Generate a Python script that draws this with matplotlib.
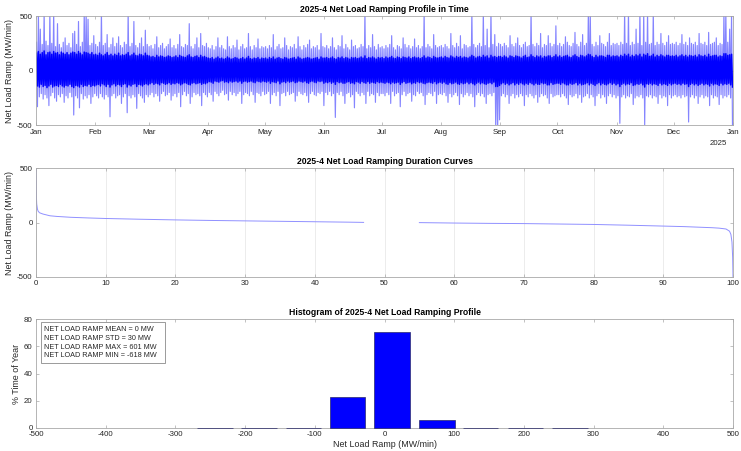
import numpy as np
import matplotlib
matplotlib.use("Agg")
import matplotlib.pyplot as plt
from matplotlib.patches import Rectangle

plt.rcParams['font.family'] = ['Liberation Sans', 'DejaVu Sans']
plt.rcParams['axes.unicode_minus'] = False

# ---------------- data ----------------
month_labels = ['Jan', 'Feb', 'Mar', 'Apr', 'May', 'Jun', 'Jul', 'Aug',
                'Sep', 'Oct', 'Nov', 'Dec', 'Jan']
month_start_day = [0, 31, 59, 90, 120, 151, 181, 212, 243, 273, 304, 334, 365]
year_label = '2025'

# daily maximum ramp (MW/min)
up_jan = [260, 540, 380, 240, 540, 270, 230, 540, 250, 540, 220, 430, 240, 210, 260, 300,
          230, 250, 210, 340, 360, 240, 450, 220, 260, 540, 540, 470, 230, 250, 320]
up_feb = [240, 220, 260, 540, 230, 250, 330, 210, 240, 300, 220, 250, 310, 230, 210, 260,
          240, 540, 220, 250, 450, 230, 210, 250, 300, 220, 370, 240]
up_mar = [220, 230, 200, 240, 310, 210, 230, 250, 200, 220, 240, 290, 210, 230, 200, 240,
          330, 220, 210, 240, 230, 430, 220, 200, 240, 300, 210, 340, 230, 220, 250]
up_apr = [210, 200, 230, 190, 220, 300, 210, 230, 200, 190, 310, 220, 200, 230, 210, 280,
          190, 220, 240, 200, 210, 340, 220, 190, 230, 210, 290, 200, 220, 210]
up_may = [220, 200, 230, 210, 330, 190, 220, 240, 200, 210, 300, 230, 190, 220, 210, 240,
          200, 310, 220, 190, 230, 210, 240, 280, 200, 220, 210, 230, 190, 340, 220]
up_jun = [210, 230, 200, 220, 300, 210, 190, 230, 220, 320, 200, 240, 210, 190, 280, 220,
          230, 200, 210, 240, 220, 540, 200, 230, 210, 330, 220, 190, 240, 210]
up_jul = [220, 200, 230, 210, 240, 320, 210, 190, 230, 220, 200, 300, 240, 210, 230, 200,
          220, 290, 210, 230, 200, 220, 540, 210, 240, 220, 200, 330, 230, 210, 220]
up_aug = [230, 210, 240, 220, 200, 340, 230, 210, 250, 220, 320, 200, 240, 230, 210, 220,
          540, 240, 210, 230, 250, 220, 540, 230, 380, 210, 540, 240, 330, 220, 250]
up_sep = [240, 220, 250, 230, 210, 320, 240, 220, 250, 300, 230, 210, 240, 260, 220, 230,
          540, 240, 220, 250, 230, 340, 210, 240, 230, 320, 250, 220, 240, 410]
up_oct = [230, 250, 220, 240, 310, 260, 230, 220, 250, 350, 240, 220, 260, 330, 230, 250,
          540, 540, 240, 220, 260, 230, 320, 250, 240, 220, 260, 340, 230, 250, 240]
up_nov = [250, 230, 260, 240, 540, 250, 540, 230, 260, 240, 380, 250, 540, 230, 540, 260,
          540, 240, 250, 540, 230, 260, 240, 340, 250, 230, 260, 320, 240, 250]
up_dec = [240, 260, 230, 250, 330, 240, 260, 230, 300, 250, 240, 260, 230, 340, 250, 240,
          260, 230, 350, 240, 250, 260, 300, 230, 250, 240, 540, 540, 260, 380, 540]

# daily minimum ramp (MW/min)
dn_jan = [-330, -240, -210, -260, -220, -250, -320, -230, -200, -250, -280, -220, -240, -210,
          -290, -230, -250, -200, -240, -406, -230, -250, -340, -210, -260, -230, -250, -220,
          -300, -240, -210]
dn_feb = [-230, -250, -210, -240, -260, -220, -240, -422, -230, -210, -250, -230, -220, -300,
          -240, -210, -385, -230, -250, -220, -240, -345, -210, -230, -250, -290, -220, -240]
dn_mar = [-220, -200, -240, -210, -230, -280, -210, -190, -230, -220, -200, -270, -230, -210,
          -240, -200, -330, -220, -190, -230, -210, -300, -240, -200, -220, -210, -230, -320,
          -200, -220, -240]
dn_apr = [-200, -220, -280, -190, -210, -230, -200, -180, -220, -210, -270, -190, -220, -200,
          -230, -210, -190, -300, -220, -200, -210, -230, -190, -220, -290, -200, -210, -230,
          -190, -220]
dn_may = [-210, -190, -300, -220, -200, -230, -190, -320, -210, -200, -230, -190, -220, -210,
          -200, -280, -230, -190, -210, -220, -200, -230, -290, -210, -190, -220, -230, -200,
          -210, -190, -320]
dn_jun = [-200, -220, -190, -230, -210, -428, -200, -220, -190, -230, -300, -210, -200, -240,
          -220, -340, -190, -210, -230, -200, -220, -300, -190, -230, -210, -220, -290, -200,
          -230, -210]
dn_jul = [-210, -230, -200, -220, -300, -190, -230, -210, -200, -330, -220, -190, -230, -210,
          -200, -280, -220, -230, -190, -210, -200, -230, -310, -220, -200, -210, -230, -190,
          -300, -220, -210]
dn_aug = [-220, -200, -230, -290, -210, -240, -220, -200, -230, -310, -210, -240, -220, -200,
          -230, -210, -240, -330, -220, -200, -230, -210, -240, -300, -220, -210, -230, -200,
          -540, -540, -450]
dn_sep = [-230, -210, -240, -220, -300, -230, -210, -250, -220, -240, -210, -230, -320, -220,
          -240, -210, -230, -250, -220, -290, -240, -210, -230, -220, -250, -300, -210, -240,
          -230, -220]
dn_oct = [-220, -240, -210, -230, -250, -310, -220, -240, -230, -210, -250, -220, -290, -240,
          -230, -210, -250, -220, -240, -320, -230, -210, -250, -220, -240, -300, -230, -210,
          -240, -220, -250]
dn_nov = [-230, -482, -240, -220, -250, -230, -240, -210, -310, -250, -230, -240, -220, -250,
          -497, -230, -240, -220, -250, -230, -240, -300, -220, -250, -230, -240, -320, -220,
          -250, -230]
dn_dec = [-220, -240, -230, -250, -220, -240, -230, -470, -240, -220, -250, -230, -300, -240,
          -220, -250, -230, -240, -320, -220, -250, -230, -240, -310, -220, -250, -230, -240,
          -220, -250, -540]

# daily dense-core upper / lower ramp (MW/min)
in_up_jan = [160, 175, 150, 165, 180, 145, 165, 170, 150, 175, 160, 165, 145, 170, 160, 150,
             165, 145, 160, 170, 165, 150, 175, 160, 145, 170, 165, 160, 150, 165, 145]
in_dn_jan = [-140, -150, -125, -145, -135, -155, -140, -125, -150, -140, -135, -145, -125, -140,
             -150, -135, -140, -125, -145, -155, -135, -140, -150, -125, -145, -135, -140, -125,
             -145, -135, -140]
in_up_feb = [150, 140, 160, 145, 135, 150, 165, 140, 150, 135, 150, 140, 160, 135, 145, 140,
             150, 165, 135, 145, 160, 140, 135, 150, 145, 135, 160, 140]
in_dn_feb = [-130, -125, -140, -120, -130, -145, -125, -150, -130, -120, -140, -125, -130, -145,
             -125, -120, -150, -130, -140, -125, -120, -145, -125, -130, -140, -125, -120, -130]
in_up_mar = [135, 125, 130, 120, 140, 125, 135, 130, 120, 125, 135, 130, 120, 125, 135, 120,
             140, 130, 125, 120, 135, 145, 125, 120, 130, 135, 120, 140, 125, 130, 120]
in_dn_mar = [-120, -110, -125, -115, -120, -130, -110, -115, -125, -120, -110, -125, -115, -120,
             -110, -115, -130, -120, -110, -115, -125, -130, -115, -110, -120, -115, -110, -125,
             -115, -120, -110]
in_up_apr = [115, 110, 120, 105, 115, 125, 110, 115, 105, 110, 125, 115, 105, 110, 120, 115,
             105, 110, 120, 105, 115, 130, 110, 105, 115, 110, 120, 105, 115, 110]
in_dn_apr = [-100, -105, -115, -95, -100, -105, -95, -90, -105, -100, -110, -95, -105, -100,
             -95, -105, -95, -115, -100, -95, -105, -100, -95, -105, -110, -95, -100, -105,
             -95, -100]
in_up_may = [115, 105, 120, 110, 125, 105, 115, 120, 110, 105, 120, 115, 105, 110, 115, 120,
             105, 125, 115, 105, 110, 115, 120, 115, 105, 110, 115, 120, 105, 125, 115]
in_dn_may = [-105, -95, -115, -100, -105, -110, -95, -120, -105, -100, -110, -95, -105, -100,
             -95, -110, -105, -95, -100, -105, -95, -110, -115, -100, -95, -105, -110, -95,
             -100, -95, -115]
in_up_jun = [115, 120, 110, 115, 125, 110, 105, 120, 115, 125, 110, 120, 115, 105, 120, 115,
             120, 110, 115, 125, 115, 135, 110, 120, 115, 125, 115, 105, 120, 115]
in_dn_jun = [-105, -110, -100, -115, -105, -125, -100, -110, -105, -115, -115, -105, -100, -115,
             -110, -120, -100, -105, -115, -100, -110, -115, -100, -115, -105, -110, -115, -100,
             -110, -105]
in_up_jul = [120, 110, 125, 115, 120, 130, 115, 110, 125, 120, 110, 125, 120, 115, 125, 110,
             120, 125, 115, 120, 110, 120, 135, 115, 125, 120, 110, 130, 120, 115, 120]
in_dn_jul = [-110, -115, -105, -110, -120, -105, -115, -110, -105, -125, -110, -100, -115, -110,
             -105, -120, -110, -115, -100, -110, -105, -115, -120, -110, -105, -110, -115, -100,
             -120, -110, -105]
in_up_aug = [125, 115, 130, 120, 115, 135, 125, 115, 130, 120, 130, 115, 125, 120, 115, 125,
             140, 130, 115, 125, 130, 120, 140, 125, 135, 115, 140, 125, 130, 120, 130]
in_dn_aug = [-115, -105, -120, -125, -110, -120, -115, -105, -120, -125, -110, -120, -115, -105,
             -120, -110, -120, -130, -115, -105, -120, -110, -120, -125, -115, -110, -120, -105,
             -145, -145, -135]
in_up_sep = [130, 120, 135, 125, 115, 135, 130, 120, 135, 130, 125, 115, 130, 140, 120, 125,
             145, 130, 120, 135, 125, 135, 115, 130, 125, 135, 135, 120, 130, 145]
in_dn_sep = [-120, -110, -125, -115, -130, -120, -110, -130, -115, -125, -110, -120, -130, -115,
             -125, -110, -120, -130, -115, -125, -125, -110, -120, -115, -130, -130, -110, -125,
             -120, -115]
in_up_oct = [125, 135, 120, 130, 135, 140, 125, 120, 135, 145, 130, 120, 140, 135, 125, 135,
             150, 145, 130, 120, 140, 125, 135, 135, 130, 120, 140, 140, 125, 135, 130]
in_dn_oct = [-115, -125, -110, -120, -130, -130, -115, -125, -120, -110, -130, -115, -130, -125,
             -120, -110, -130, -115, -125, -135, -120, -110, -130, -115, -125, -130, -120, -110,
             -125, -115, -130]
in_up_nov = [135, 125, 140, 130, 150, 135, 150, 125, 140, 130, 145, 135, 150, 125, 150, 140,
             155, 130, 135, 150, 125, 140, 130, 145, 135, 125, 140, 140, 130, 135]
in_dn_nov = [-120, -145, -125, -115, -130, -120, -125, -110, -135, -130, -120, -125, -115, -130,
             -150, -120, -125, -115, -130, -120, -125, -135, -115, -130, -120, -125, -135, -115,
             -130, -120]
in_up_dec = [130, 140, 125, 135, 145, 130, 140, 125, 140, 135, 130, 140, 125, 145, 135, 130,
             140, 125, 150, 130, 135, 140, 140, 125, 135, 130, 155, 155, 140, 145, 150]
in_dn_dec = [-115, -125, -120, -130, -115, -125, -120, -145, -125, -115, -130, -120, -135, -125,
             -115, -130, -120, -125, -140, -115, -130, -120, -125, -135, -115, -130, -120, -125,
             -115, -130, -150]

# duration curve (percent of time, MW/min)
dur_pos_pct = [0, 0.02, 0.05, 0.1, 0.2, 0.3, 0.5, 1, 2, 3, 5, 7.5, 10, 15, 20, 25, 30, 35, 40, 45, 47]
dur_pos_val = [500, 400, 250, 170, 125, 105, 90, 78, 62, 56, 48, 42, 37, 30, 24, 19, 15, 11, 7, 3, 1]
dur_neg_pct = [55, 60, 65, 70, 75, 80, 85, 90, 93, 95, 97, 98, 99, 99.5, 99.7, 99.85, 99.95, 100]
dur_neg_val = [-1, -5, -8, -10, -14, -18, -25, -33, -38, -43, -48, -52, -60, -80, -110, -180, -320, -500]

# histogram (bin centre MW/min, % time of year)
hist_centers = [-243, -180, -116, -53, 11, 75, 138, 202, 266]
hist_pct = [0.03, 0.05, 0.3, 22.6, 70.9, 5.9, 0.2, 0.03, 0.02]

stats_lines = ['NET LOAD RAMP MEAN = 0 MW',
               'NET LOAD RAMP STD = 30 MW',
               'NET LOAD RAMP MAX = 601 MW',
               'NET LOAD RAMP MIN = -618 MW']

# ---------------- figure ----------------
SPINE = '#a8a8a8'
TXT = '#262626'
TICK_FS = 5.7
LAB_FS = 6.4
TIT_FS = 6.2


def style(ax):
    for s in ax.spines.values():
        s.set_color(SPINE)
        s.set_linewidth(0.6)
    ax.tick_params(direction='in', length=2.5, width=0.5, color=SPINE,
                   labelsize=TICK_FS, labelcolor=TXT, top=True, right=True, pad=2.5)


def zigzag(hi, lo):
    n = min(len(hi), len(lo))
    xs = np.empty(2 * n)
    ys = np.empty(2 * n)
    xs[0::2] = np.arange(n) + 0.25
    xs[1::2] = np.arange(n) + 0.75
    ys[0::2] = np.array(hi[:n])
    ys[1::2] = np.array(lo[:n])
    return xs, ys


fig = plt.figure(figsize=(7.41, 4.51), dpi=100)
ax1 = fig.add_axes([0.0486, 0.7222, 0.9406, 0.2423])
ax2 = fig.add_axes([0.0486, 0.3865, 0.9406, 0.2403])
ax3 = fig.add_axes([0.0486, 0.051, 0.9406, 0.241])

# --- top: time profile
up = up_jan + up_feb + up_mar + up_apr + up_may + up_jun + up_jul + up_aug + up_sep + up_oct + up_nov + up_dec
dn = dn_jan + dn_feb + dn_mar + dn_apr + dn_may + dn_jun + dn_jul + dn_aug + dn_sep + dn_oct + dn_nov + dn_dec
in_up = (in_up_jan + in_up_feb + in_up_mar + in_up_apr + in_up_may + in_up_jun + in_up_jul
         + in_up_aug + in_up_sep + in_up_oct + in_up_nov + in_up_dec)
in_dn = (in_dn_jan + in_dn_feb + in_dn_mar + in_dn_apr + in_dn_may + in_dn_jun + in_dn_jul
         + in_dn_aug + in_dn_sep + in_dn_oct + in_dn_nov + in_dn_dec)
fx, fy = zigzag(up, dn)
ax1.plot(fx, fy, color='#0000ff', lw=0.85, alpha=0.48)
cxz, cyz = zigzag(in_up, in_dn)
ax1.plot(cxz, cyz, color='#0000ff', lw=1.1)
ax1.set_xlim(0, 365)
ax1.set_ylim(-500, 500)
ax1.set_xticks(month_start_day)
ax1.set_xticklabels(month_labels)
ax1.set_yticks([-500, 0, 500])
style(ax1)
ax1.set_ylabel('Net Load Ramp (MW/min)', fontsize=LAB_FS, color=TXT, labelpad=2)
ax1.set_title('2025-4 Net Load Ramping Profile in Time', fontsize=TIT_FS,
              fontweight='bold', pad=3, color='black')
ax1.text(0.992, -0.165, year_label, transform=ax1.transAxes, ha='right', va='center',
         fontsize=TICK_FS, color=TXT)

# --- middle: duration curve
ax2.plot(dur_pos_pct, dur_pos_val, color='#9090ff', lw=0.7)
ax2.plot(dur_neg_pct, dur_neg_val, color='#9090ff', lw=0.7)
ax2.set_xlim(0, 100)
ax2.set_ylim(-500, 500)
ax2.set_xticks(range(0, 101, 10))
ax2.set_yticks([-500, 0, 500])
ax2.grid(axis='x', color='#e4e4e4', lw=0.5)
ax2.set_axisbelow(True)
style(ax2)
ax2.set_ylabel('Net Load Ramp (MW/min)', fontsize=LAB_FS, color=TXT, labelpad=2)
ax2.set_title('2025-4 Net Load Ramping Duration Curves', fontsize=TIT_FS,
              fontweight='bold', pad=3, color='black')

# --- bottom: histogram
bars = ax3.bar(hist_centers, hist_pct, width=51, color='#0000ff', edgecolor='#2a2a6a',
               lw=0.5, zorder=3)
for b in bars:
    b.set_clip_on(False)
ax3.set_xlim(-500, 500)
ax3.set_ylim(0, 80)
ax3.set_xticks(range(-500, 501, 100))
ax3.set_yticks(range(0, 81, 20))
style(ax3)
ax3.set_ylabel('% Time of Year', fontsize=LAB_FS, color=TXT, labelpad=2)
ax3.set_xlabel('Net Load Ramp (MW/min)', fontsize=LAB_FS, color=TXT, labelpad=1)
ax3.set_title('Histogram of 2025-4 Net Load Ramping Profile', fontsize=TIT_FS,
              fontweight='bold', pad=3, color='black')
ax3.add_patch(Rectangle((0.0067, 0.598), 0.179, 0.374, transform=ax3.transAxes,
                        facecolor='white', edgecolor='#8a8a8a', lw=0.6, zorder=5))
line_y = [0.905, 0.825, 0.745, 0.665]
for t, yy in zip(stats_lines, line_y):
    ax3.text(0.0115, yy, t, transform=ax3.transAxes, ha='left', va='center',
             fontsize=5.2, color=TXT, zorder=6)

fig.savefig('out.png', dpi=100)
